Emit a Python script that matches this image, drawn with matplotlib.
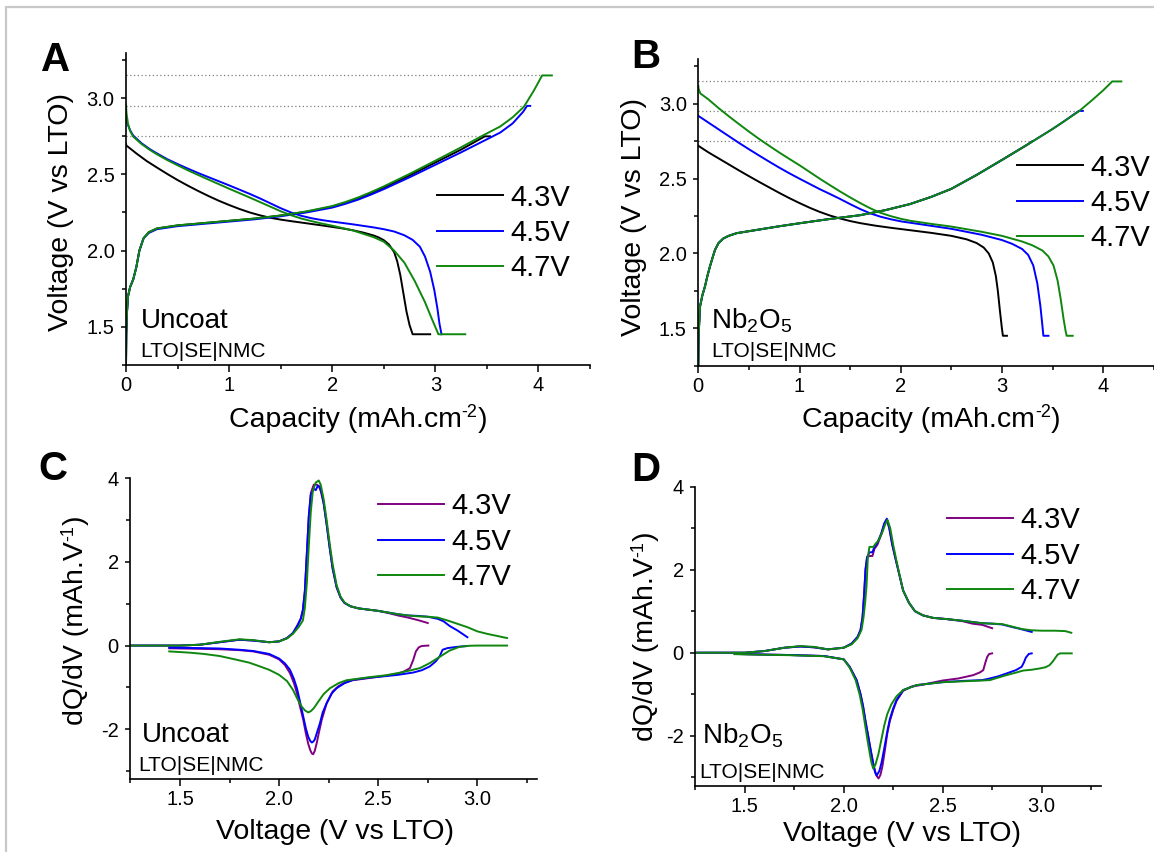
import matplotlib
matplotlib.use("Agg")
import matplotlib.pyplot as plt
from matplotlib.ticker import MultipleLocator, FormatStrFormatter
from matplotlib.patches import Rectangle

plt.rcParams["font.family"] = ["Liberation Sans", "DejaVu Sans"]
plt.rcParams["axes.unicode_minus"] = False

W, H = 1154, 852
BLACK, BLUE, GREEN, PURPLE = "#000000", "#0000ff", "#0f870f", "#800080"
LABELS = ["4.3V", "4.5V", "4.7V"]

# ---------------- Panel A: uncoated, charge / discharge ----------------
a_chg_43_x = [0, .003, .01, .02, .04, .07, .10, .13, .17, .22, .30, .5, .75, 1.0, 1.25, 1.5, 1.75, 2.0, 2.125, 2.25, 2.375, 2.5, 2.75, 3.0, 3.25, 3.48, 3.53]
a_chg_43_y = [1.25, 1.45, 1.6, 1.7, 1.76, 1.81, 1.89, 2.0, 2.08, 2.12, 2.145, 2.165, 2.18, 2.195, 2.21, 2.23, 2.255, 2.288, 2.313, 2.342, 2.376, 2.413, 2.493, 2.578, 2.663, 2.75, 2.75]
a_chg_45_x = [0, .003, .01, .02, .04, .07, .10, .13, .17, .22, .30, .5, .75, 1.0, 1.25, 1.5, 1.75, 2.0, 2.125, 2.25, 2.375, 2.5, 2.75, 3.0, 3.25, 3.44, 3.63, 3.75, 3.85, 3.89, 3.92]
a_chg_45_y = [1.25, 1.45, 1.6, 1.7, 1.76, 1.81, 1.89, 2.0, 2.08, 2.115, 2.14, 2.16, 2.175, 2.19, 2.205, 2.225, 2.25, 2.282, 2.306, 2.334, 2.367, 2.403, 2.481, 2.563, 2.645, 2.71, 2.775, 2.835, 2.91, 2.95, 2.95]
a_chg_47_x = [0, .003, .01, .02, .04, .07, .10, .13, .17, .22, .30, .5, .75, 1.0, 1.25, 1.5, 1.75, 2.0, 2.125, 2.25, 2.375, 2.5, 2.75, 3.0, 3.25, 3.44, 3.63, 3.75, 3.86, 3.955, 4.036, 4.13]
a_chg_47_y = [1.25, 1.45, 1.6, 1.7, 1.76, 1.81, 1.89, 2.0, 2.08, 2.12, 2.145, 2.165, 2.18, 2.195, 2.21, 2.23, 2.257, 2.292, 2.318, 2.348, 2.383, 2.421, 2.503, 2.59, 2.678, 2.748, 2.815, 2.875, 2.945, 3.05, 3.15, 3.15]

a_dis_43_x = [0, .003, .05, .1, .2, .3, .4, .5, .6, .7, .8, .9, 1.0, 1.1, 1.2, 1.3, 1.4, 1.5, 1.6, 1.75, 1.9, 2.0, 2.1, 2.2, 2.3, 2.4, 2.45, 2.5, 2.55, 2.6, 2.63, 2.66, 2.69, 2.72, 2.75, 2.78, 2.95]
a_dis_43_y = [2.70, 2.69, 2.665, 2.638, 2.588, 2.545, 2.503, 2.463, 2.426, 2.391, 2.358, 2.327, 2.299, 2.273, 2.25, 2.231, 2.215, 2.203, 2.193, 2.179, 2.165, 2.155, 2.145, 2.133, 2.118, 2.099, 2.086, 2.068, 2.04, 1.99, 1.93, 1.84, 1.72, 1.60, 1.51, 1.45, 1.45]
a_dis_45_x = [0, .01, .04, .07, .15, .233, .3, .4, .5, .6, .7, .8, .9, 1.0, 1.1, 1.2, 1.3, 1.4, 1.5, 1.6, 1.7, 1.8, 1.9, 2.0, 2.2, 2.4, 2.5, 2.6, 2.7, 2.78, 2.85, 2.9, 2.95, 2.99, 3.02, 3.04, 3.06]
a_dis_45_y = [2.88, 2.84, 2.79, 2.755, 2.705, 2.665, 2.638, 2.60, 2.568, 2.538, 2.509, 2.482, 2.455, 2.428, 2.40, 2.372, 2.342, 2.31, 2.278, 2.25, 2.228, 2.212, 2.2, 2.19, 2.172, 2.152, 2.14, 2.125, 2.10, 2.07, 2.025, 1.96, 1.86, 1.74, 1.62, 1.52, 1.45]
a_dis_47_x = [0, .005, .02, .04, .07, .15, .233, .3, .4, .5, .6, .7, .8, .9, 1.0, 1.1, 1.2, 1.3, 1.4, 1.5, 1.6, 1.7, 1.8, 1.9, 2.0, 2.2, 2.4, 2.5, 2.6, 2.7, 2.8, 2.9, 2.97, 3.03, 3.29]
a_dis_47_y = [2.96, 2.90, 2.83, 2.785, 2.748, 2.70, 2.66, 2.632, 2.594, 2.56, 2.527, 2.496, 2.466, 2.436, 2.406, 2.377, 2.348, 2.318, 2.288, 2.258, 2.232, 2.21, 2.193, 2.177, 2.163, 2.132, 2.088, 2.058, 2.0, 1.92, 1.80, 1.66, 1.545, 1.45, 1.45]

# ---------------- Panel B: Nb2O5 coated, charge / discharge ----------------
b_chg_43_x = [0, .003, .017, .04, .066, .09, .115, .14, .165, .2, .247, .3, .38, .6, .8, 1.0, 1.27, 1.6, 1.85, 2.09, 2.3, 2.5, 2.75, 3.0, 3.25, 3.3]
b_chg_43_y = [1.25, 1.45, 1.645, 1.72, 1.78, 1.85, 1.913, 1.97, 2.024, 2.07, 2.10, 2.118, 2.136, 2.16, 2.182, 2.202, 2.228, 2.256, 2.29, 2.33, 2.378, 2.432, 2.525, 2.625, 2.727, 2.75]
b_chg_45_x = [0, .003, .017, .04, .066, .09, .115, .14, .165, .2, .247, .3, .38, .6, .8, 1.0, 1.27, 1.6, 1.85, 2.09, 2.3, 2.5, 2.75, 3.0, 3.25, 3.376, 3.5, 3.6, 3.76, 3.80]
b_chg_45_y = [1.25, 1.45, 1.645, 1.72, 1.78, 1.85, 1.913, 1.97, 2.024, 2.07, 2.10, 2.118, 2.136, 2.16, 2.182, 2.202, 2.228, 2.256, 2.29, 2.33, 2.378, 2.432, 2.525, 2.625, 2.727, 2.78, 2.832, 2.877, 2.953, 2.953]
b_chg_47_x = [0, .003, .017, .04, .066, .09, .115, .14, .165, .2, .247, .3, .38, .6, .8, 1.0, 1.27, 1.6, 1.85, 2.09, 2.3, 2.5, 2.75, 3.0, 3.25, 3.376, 3.5, 3.6, 3.76, 3.9, 4.0, 4.09, 4.18]
b_chg_47_y = [1.25, 1.45, 1.645, 1.72, 1.78, 1.85, 1.913, 1.97, 2.024, 2.07, 2.10, 2.118, 2.136, 2.16, 2.182, 2.202, 2.228, 2.256, 2.29, 2.33, 2.378, 2.432, 2.525, 2.625, 2.727, 2.78, 2.832, 2.877, 2.95, 3.03, 3.09, 3.15, 3.15]

b_dis_43_x = [0, .1, .2, .3, .4, .5, .6, .7, .8, .9, 1.0, 1.1, 1.2, 1.3, 1.4, 1.5, 1.6, 1.75, 1.9, 2.1, 2.3, 2.5, 2.65, 2.75, 2.82, 2.87, 2.91, 2.94, 2.96, 2.98, 3.0, 3.01, 3.05]
b_dis_43_y = [2.72, 2.676, 2.636, 2.596, 2.556, 2.517, 2.479, 2.442, 2.405, 2.37, 2.337, 2.306, 2.278, 2.254, 2.234, 2.217, 2.203, 2.186, 2.172, 2.155, 2.138, 2.118, 2.095, 2.07, 2.04, 2.0, 1.94, 1.85, 1.75, 1.62, 1.50, 1.45, 1.45]
b_dis_45_x = [0, .1, .2, .3, .4, .5, .6, .7, .8, .9, 1.0, 1.1, 1.2, 1.3, 1.4, 1.5, 1.6, 1.7, 1.8, 1.9, 2.0, 2.2, 2.5, 2.8, 3.0, 3.1, 3.2, 3.26, 3.31, 3.35, 3.38, 3.40, 3.41, 3.46]
b_dis_45_y = [2.92, 2.875, 2.83, 2.785, 2.74, 2.697, 2.655, 2.614, 2.574, 2.536, 2.50, 2.465, 2.43, 2.398, 2.365, 2.33, 2.297, 2.268, 2.246, 2.229, 2.215, 2.195, 2.165, 2.125, 2.09, 2.065, 2.03, 1.99, 1.92, 1.80, 1.65, 1.52, 1.45, 1.45]
b_dis_47_x = [0, .003, .02, .1, .2, .3, .4, .5, .6, .7, .8, .9, 1.0, 1.1, 1.2, 1.3, 1.4, 1.5, 1.6, 1.7, 1.8, 1.9, 2.0, 2.1, 2.3, 2.5, 2.8, 3.0, 3.2, 3.3, 3.4, 3.46, 3.51, 3.55, 3.58, 3.61, 3.63, 3.64, 3.70]
b_dis_47_y = [3.12, 3.10, 3.07, 3.03, 2.972, 2.918, 2.866, 2.815, 2.766, 2.72, 2.675, 2.632, 2.59, 2.545, 2.50, 2.457, 2.415, 2.375, 2.337, 2.302, 2.272, 2.25, 2.232, 2.218, 2.198, 2.18, 2.145, 2.118, 2.08, 2.055, 2.02, 1.98, 1.92, 1.82, 1.70, 1.56, 1.48, 1.45, 1.45]

# cut-off voltages (dotted guides) and where they stop
a_cut_v = [2.75, 2.95, 3.15]
a_cut_end = [3.48, 3.89, 4.04]
b_cut_v = [2.75, 2.95, 3.15]
b_cut_end = [3.3, 3.76, 4.09]

# ---------------- Panel C: uncoated, dQ/dV ----------------
c_up_43_x = [1.25, 1.5, 1.6, 1.7, 1.8, 1.87, 1.95, 2.0, 2.04, 2.07, 2.095, 2.11, 2.12, 2.13, 2.14, 2.15, 2.16, 2.175, 2.19, 2.2, 2.21, 2.225, 2.24, 2.255, 2.27, 2.29, 2.31, 2.33, 2.36, 2.4, 2.45, 2.5, 2.55, 2.6, 2.65, 2.7, 2.75]
c_up_43_y = [0, 0, .02, .08, .14, .12, .08, .1, .18, .3, .5, .65, .85, 1.3, 2.2, 3.1, 3.65, 3.85, 3.85, 3.82, 3.7, 3.4, 2.9, 2.35, 1.85, 1.4, 1.15, 1.02, .94, .89, .86, .83, .78, .72, .67, .61, .54]
c_up_45_x = [1.25, 1.5, 1.6, 1.7, 1.8, 1.87, 1.95, 2.0, 2.04, 2.07, 2.095, 2.11, 2.12, 2.13, 2.14, 2.15, 2.16, 2.175, 2.185, 2.195, 2.205, 2.215, 2.225, 2.24, 2.255, 2.27, 2.29, 2.31, 2.33, 2.36, 2.4, 2.45, 2.5, 2.55, 2.6, 2.65, 2.7, 2.75, 2.8, 2.83, 2.86, 2.9, 2.95]
c_up_45_y = [0, 0, .02, .08, .14, .12, .08, .1, .18, .3, .5, .65, .85, 1.3, 2.2, 3.1, 3.6, 3.75, 3.72, 3.82, 3.80, 3.65, 3.4, 2.9, 2.35, 1.85, 1.4, 1.15, 1.02, .94, .89, .86, .83, .79, .75, .72, .71, .69, .64, .58, .47, .36, .2]
c_up_47_x = [1.25, 1.5, 1.6, 1.7, 1.8, 1.87, 1.95, 2.0, 2.04, 2.07, 2.1, 2.12, 2.13, 2.14, 2.15, 2.16, 2.17, 2.185, 2.2, 2.21, 2.225, 2.24, 2.255, 2.27, 2.29, 2.31, 2.33, 2.36, 2.4, 2.45, 2.5, 2.55, 2.6, 2.65, 2.7, 2.75, 2.8, 2.85, 2.9, 2.95, 3.0, 3.05, 3.1, 3.15]
c_up_47_y = [0, 0, .02, .09, .15, .13, .08, .1, .17, .28, .45, .6, .9, 1.5, 2.4, 3.2, 3.7, 3.9, 3.95, 3.85, 3.5, 3.0, 2.45, 1.95, 1.45, 1.17, 1.03, .94, .89, .86, .83, .79, .75, .72, .70, .69, .67, .6, .52, .44, .34, .28, .23, .18]

c_dn_43_x = [1.446, 1.6, 1.7, 1.8, 1.87, 1.95, 2.0, 2.03, 2.055, 2.075, 2.09, 2.105, 2.122, 2.135, 2.147, 2.157, 2.165, 2.172, 2.18, 2.19, 2.2, 2.215, 2.24, 2.27, 2.3, 2.33, 2.37, 2.45, 2.54, 2.6, 2.63, 2.66, 2.677, 2.69, 2.705, 2.72, 2.753]
c_dn_43_y = [-.065, -.078, -.088, -.11, -.14, -.22, -.33, -.47, -.66, -.9, -1.14, -1.45, -1.78, -2.1, -2.35, -2.5, -2.58, -2.6, -2.52, -2.33, -2.1, -1.78, -1.38, -1.1, -.97, -.89, -.83, -.78, -.72, -.67, -.62, -.54, -.34, -.14, -.04, -.01, 0]
c_dn_45_x = [1.446, 1.6, 1.7, 1.8, 1.87, 1.95, 2.0, 2.03, 2.055, 2.075, 2.09, 2.105, 2.122, 2.135, 2.147, 2.157, 2.165, 2.172, 2.18, 2.19, 2.206, 2.22, 2.24, 2.265, 2.29, 2.33, 2.374, 2.45, 2.54, 2.6, 2.677, 2.72, 2.76, 2.79, 2.81, 2.82, 2.825, 2.85, 2.9, 2.95]
c_dn_45_y = [-.05, -.06, -.07, -.1, -.13, -.2, -.31, -.43, -.58, -.8, -1.02, -1.33, -1.7, -1.98, -2.18, -2.28, -2.32, -2.3, -2.25, -2.1, -1.86, -1.6, -1.38, -1.15, -1.02, -.9, -.82, -.77, -.73, -.7, -.645, -.59, -.5, -.38, -.26, -.15, -.1, -.06, -.03, -.01]
c_dn_47_x = [1.446, 1.55, 1.62, 1.7, 1.786, 1.85, 1.904, 1.95, 2.0, 2.04, 2.07, 2.095, 2.114, 2.13, 2.147, 2.16, 2.175, 2.198, 2.225, 2.257, 2.3, 2.34, 2.45, 2.54, 2.62, 2.71, 2.76, 2.81, 2.86, 2.91, 2.96, 3.0, 3.15]
c_dn_47_y = [-.14, -.17, -.2, -.25, -.34, -.41, -.5, -.58, -.7, -.85, -1.06, -1.3, -1.46, -1.55, -1.6, -1.57, -1.5, -1.34, -1.16, -1.02, -.9, -.83, -.76, -.71, -.64, -.54, -.42, -.27, -.12, -.03, -.005, 0, 0]

# ---------------- Panel D: Nb2O5 coated, dQ/dV ----------------
d_up_43_x = [1.25, 1.5, 1.6, 1.7, 1.78, 1.85, 1.92, 2.0, 2.04, 2.07, 2.085, 2.095, 2.103, 2.11, 2.118, 2.13, 2.145, 2.155, 2.17, 2.19, 2.205, 2.217, 2.23, 2.245, 2.26, 2.28, 2.3, 2.33, 2.36, 2.4, 2.45, 2.52, 2.6, 2.65, 2.7, 2.75]
d_up_43_y = [0, 0, .04, .12, .15, .13, .08, .12, .22, .38, .55, .85, 1.4, 2.0, 2.3, 2.33, 2.33, 2.5, 2.6, 2.85, 3.1, 3.2, 3.0, 2.6, 2.3, 1.9, 1.5, 1.2, 1.0, .9, .84, .81, .76, .70, .67, .59]
d_up_45_x = [1.25, 1.5, 1.6, 1.7, 1.78, 1.85, 1.92, 2.0, 2.04, 2.07, 2.085, 2.095, 2.103, 2.11, 2.118, 2.13, 2.145, 2.155, 2.17, 2.19, 2.205, 2.218, 2.23, 2.245, 2.26, 2.28, 2.3, 2.33, 2.36, 2.4, 2.45, 2.52, 2.6, 2.7, 2.75, 2.8, 2.85, 2.89, 2.95]
d_up_45_y = [0, 0, .04, .12, .15, .13, .08, .12, .22, .38, .55, .85, 1.4, 2.0, 2.3, 2.42, 2.42, 2.55, 2.65, 2.88, 3.12, 3.23, 3.02, 2.62, 2.3, 1.9, 1.5, 1.2, 1.0, .9, .84, .81, .77, .71, .70, .68, .62, .575, .50]
d_up_47_x = [1.25, 1.5, 1.6, 1.7, 1.78, 1.85, 1.92, 2.0, 2.04, 2.07, 2.09, 2.1, 2.108, 2.115, 2.122, 2.13, 2.15, 2.16, 2.175, 2.195, 2.21, 2.221, 2.235, 2.25, 2.265, 2.28, 2.3, 2.33, 2.36, 2.4, 2.45, 2.52, 2.6, 2.7, 2.75, 2.8, 2.85, 2.9, 2.95, 3.0, 3.07, 3.12, 3.15]
d_up_47_y = [0, 0, .04, .12, .16, .14, .08, .12, .2, .35, .55, .85, 1.2, 1.6, 2.3, 2.55, 2.55, 2.62, 2.7, 2.9, 3.1, 3.2, 3.0, 2.6, 2.25, 1.92, 1.5, 1.2, 1.0, .9, .84, .81, .77, .71, .70, .69, .63, .57, .54, .53, .53, .52, .48]

d_dn_43_x = [1.449, 1.6, 1.728, 1.9, 2.0, 2.03, 2.065, 2.085, 2.098, 2.11, 2.124, 2.137, 2.149, 2.16, 2.168, 2.176, 2.185, 2.195, 2.208, 2.22, 2.233, 2.25, 2.267, 2.3, 2.34, 2.4, 2.5, 2.58, 2.655, 2.69, 2.705, 2.715, 2.725, 2.735, 2.75]
d_dn_43_y = [-.03, -.045, -.056, -.08, -.16, -.34, -.66, -1.0, -1.3, -1.65, -2.02, -2.37, -2.67, -2.88, -2.98, -3.03, -2.95, -2.75, -2.35, -1.95, -1.65, -1.38, -1.16, -.92, -.82, -.77, -.67, -.62, -.54, -.47, -.42, -.25, -.1, -.03, -.016]
d_dn_45_x = [1.449, 1.6, 1.728, 1.9, 2.0, 2.03, 2.065, 2.085, 2.098, 2.11, 2.124, 2.137, 2.149, 2.158, 2.166, 2.18, 2.191, 2.205, 2.22, 2.233, 2.25, 2.267, 2.3, 2.368, 2.5, 2.6, 2.7, 2.739, 2.78, 2.823, 2.87, 2.899, 2.91, 2.92, 2.935, 2.95]
d_dn_45_y = [-.03, -.045, -.056, -.08, -.16, -.34, -.66, -1.0, -1.3, -1.65, -2.02, -2.37, -2.67, -2.88, -2.96, -2.85, -2.65, -2.3, -1.9, -1.6, -1.34, -1.14, -.9, -.78, -.71, -.68, -.66, -.62, -.57, -.5, -.42, -.34, -.24, -.12, -.03, -.016]
d_dn_47_x = [1.449, 1.6, 1.728, 1.9, 2.0, 2.03, 2.06, 2.08, 2.095, 2.11, 2.125, 2.14, 2.149, 2.16, 2.175, 2.19, 2.205, 2.22, 2.24, 2.267, 2.3, 2.37, 2.5, 2.6, 2.7, 2.739, 2.78, 2.823, 2.87, 2.907, 2.95, 2.99, 3.02, 3.04, 3.055, 3.067, 3.08, 3.093, 3.152]
d_dn_47_y = [-.035, -.05, -.06, -.085, -.16, -.36, -.66, -1.0, -1.35, -1.8, -2.25, -2.65, -2.79, -2.7, -2.45, -2.1, -1.75, -1.48, -1.25, -1.05, -.9, -.78, -.71, -.69, -.67, -.66, -.6, -.54, -.48, -.43, -.41, -.38, -.35, -.30, -.22, -.14, -.05, -.016, -.016]


def fx(x):
    return x / W


def fy(y):
    return 1 - y / H


def add_axes_px(fig, left, top, right, bottom):
    return fig.add_axes([left / W, 1 - bottom / H, (right - left) / W, (bottom - top) / H])


def style_axes(ax):
    for s in ("top", "right"):
        ax.spines[s].set_visible(False)
    for s in ("left", "bottom"):
        ax.spines[s].set_linewidth(1.2)
    ax.set_facecolor("none")
    ax.tick_params(which="both", direction="out", width=1.1, labelsize=14.5)
    ax.tick_params(axis="x", which="major", length=5, pad=3)
    ax.tick_params(axis="x", which="minor", length=3)
    ax.tick_params(axis="y", which="major", length=3.8, pad=4.5)
    ax.tick_params(axis="y", which="minor", length=2.6)


def add_legend(ax, handles, x0, y0):
    ax.legend(handles, LABELS, loc="upper left", bbox_to_anchor=(x0, y0),
              frameon=False, fontsize=21, handlelength=2.26, handletextpad=0.24,
              labelspacing=0.255, borderpad=0, borderaxespad=0)


fig = plt.figure(figsize=(W / 100, H / 100), dpi=100)
fig.patch.set_facecolor("white")
renderer = fig.canvas.get_renderer()


def text_width(s, fs):
    t = fig.text(0, 0, s, fontsize=fs)
    w = t.get_window_extent(renderer).width
    t.remove()
    return w


def sup_label(x, y, parts, vertical=False):
    # parts: (text, fontsize, raise in px); x, y: centre along the text and baseline, in px
    widths = [text_width(s, fs) for s, fs, _ in parts]
    pos = -sum(widths) / 2
    for (s, fs, r), w in zip(parts, widths):
        if vertical:
            fig.text(fx(x - r), fy(y - pos), s, fontsize=fs, rotation=90,
                     rotation_mode="anchor", ha="left", va="baseline")
        else:
            fig.text(fx(x + pos), fy(y - r), s, fontsize=fs, ha="left", va="baseline")
        pos += w


# light grey frame, only top and left edges remain in the crop
fig.add_artist(Rectangle((fx(6), -0.1), 1.2, fy(7) + 0.1, transform=fig.transFigure,
                         fill=False, edgecolor="#c8c8c8", linewidth=1.6, clip_on=False))

# ---------- A ----------
axA = add_axes_px(fig, 126, 52.6, 590, 364.7)
style_axes(axA)
for v, e in zip(a_cut_v, a_cut_end):
    axA.plot([0, e], [v, v], color="#808080", lw=0.9, ls=(0, (1, 2)))
hA = []
for (cx, cy, dx, dy, c) in [(a_chg_43_x, a_chg_43_y, a_dis_43_x, a_dis_43_y, BLACK),
                            (a_chg_45_x, a_chg_45_y, a_dis_45_x, a_dis_45_y, BLUE),
                            (a_chg_47_x, a_chg_47_y, a_dis_47_x, a_dis_47_y, GREEN)]:
    ln, = axA.plot(cx, cy, color=c, lw=1.4)
    axA.plot(dx, dy, color=c, lw=1.4)
    hA.append(ln)
axA.set_xlim(0, 4.5)
axA.set_ylim(1.25, 3.3)
axA.xaxis.set_major_locator(MultipleLocator(1))
axA.xaxis.set_minor_locator(MultipleLocator(0.5))
axA.yaxis.set_major_locator(MultipleLocator(0.5))
axA.yaxis.set_minor_locator(MultipleLocator(0.25))
axA.yaxis.set_major_formatter(FormatStrFormatter("%.1f"))
add_legend(axA, hA, (437 - 126) / 464, (364.7 - 183.5) / 312.1)

# ---------- B ----------
axB = add_axes_px(fig, 698.3, 59, 1153.7, 365.7)
style_axes(axB)
for v, e in zip(b_cut_v, b_cut_end):
    axB.plot([0, e], [v, v], color="#808080", lw=0.9, ls=(0, (1, 2)))
hB = []
for (cx, cy, dx, dy, c) in [(b_chg_43_x, b_chg_43_y, b_dis_43_x, b_dis_43_y, BLACK),
                            (b_chg_45_x, b_chg_45_y, b_dis_45_x, b_dis_45_y, BLUE),
                            (b_chg_47_x, b_chg_47_y, b_dis_47_x, b_dis_47_y, GREEN)]:
    ln, = axB.plot(cx, cy, color=c, lw=1.4)
    axB.plot(dx, dy, color=c, lw=1.4)
    hB.append(ln)
axB.set_xlim(0, 4.5)
axB.set_ylim(1.25, 3.3)
axB.xaxis.set_major_locator(MultipleLocator(1))
axB.xaxis.set_minor_locator(MultipleLocator(0.5))
axB.yaxis.set_major_locator(MultipleLocator(0.5))
axB.yaxis.set_minor_locator(MultipleLocator(0.25))
axB.yaxis.set_major_formatter(FormatStrFormatter("%.1f"))
add_legend(axB, hB, (1017 - 698.3) / 455.4, (365.7 - 153.5) / 306.7)

# ---------- C ----------
axC = add_axes_px(fig, 130.4, 478.4, 536.8, 779.3)
style_axes(axC)
hC = []
for (ux, uy, dx, dy, c) in [(c_up_43_x, c_up_43_y, c_dn_43_x, c_dn_43_y, PURPLE),
                            (c_up_45_x, c_up_45_y, c_dn_45_x, c_dn_45_y, BLUE),
                            (c_up_47_x, c_up_47_y, c_dn_47_x, c_dn_47_y, GREEN)]:
    ln, = axC.plot(ux, uy, color=c, lw=1.4)
    axC.plot(dx, dy, color=c, lw=1.4)
    hC.append(ln)
axC.set_xlim(1.25, 3.3)
axC.set_ylim(-3.2, 4)
axC.xaxis.set_major_locator(MultipleLocator(0.5))
axC.xaxis.set_minor_locator(MultipleLocator(0.25))
axC.xaxis.set_major_formatter(FormatStrFormatter("%.1f"))
axC.yaxis.set_major_locator(MultipleLocator(2))
axC.yaxis.set_minor_locator(MultipleLocator(1))
add_legend(axC, hC, (378 - 130.4) / 406.4, (779.3 - 492.5) / 300.9)

# ---------- D ----------
axD = add_axes_px(fig, 695.3, 486.7, 1101, 785.5)
style_axes(axD)
hD = []
for (ux, uy, dx, dy, c) in [(d_up_43_x, d_up_43_y, d_dn_43_x, d_dn_43_y, PURPLE),
                            (d_up_45_x, d_up_45_y, d_dn_45_x, d_dn_45_y, BLUE),
                            (d_up_47_x, d_up_47_y, d_dn_47_x, d_dn_47_y, GREEN)]:
    ln, = axD.plot(ux, uy, color=c, lw=1.4)
    axD.plot(dx, dy, color=c, lw=1.4)
    hD.append(ln)
axD.set_xlim(1.25, 3.3)
axD.set_ylim(-3.2, 4)
axD.xaxis.set_major_locator(MultipleLocator(0.5))
axD.xaxis.set_minor_locator(MultipleLocator(0.25))
axD.xaxis.set_major_formatter(FormatStrFormatter("%.1f"))
axD.yaxis.set_major_locator(MultipleLocator(2))
axD.yaxis.set_minor_locator(MultipleLocator(1))
add_legend(axD, hD, (947 - 695.3) / 405.7, (785.5 - 506.5) / 298.8)

# ---------- axis titles ----------
volt_label = "Voltage (V vs LTO)"
cap_parts = [("Capacity (mAh.cm", 20.5, 0), ("-2", 13, 10), (")", 20.5, 0)]
dqdv_parts = [("dQ/dV (mAh.V", 20.5, 0), ("-1", 13, 10), (")", 20.5, 0)]
sup_label(358, 427, cap_parts)
sup_label(931, 427, cap_parts)
sup_label(83, 620, dqdv_parts, vertical=True)
sup_label(653, 636, dqdv_parts, vertical=True)
fig.text(fx(61), fy(212), volt_label, fontsize=20.5, ha="center", va="center", rotation=90)
fig.text(fx(634), fy(217), volt_label, fontsize=20.5, ha="center", va="center", rotation=90)
fig.text(fx(335), fy(832), volt_label, fontsize=20.5, ha="center", va="center")
fig.text(fx(902), fy(834), volt_label, fontsize=20.5, ha="center", va="center")

# ---------- panel annotations ----------
nb_label = r"Nb$_\mathregular{2}$O$_\mathregular{5}$"
fig.text(fx(141), fy(328), "Uncoat", fontsize=20, va="baseline")
fig.text(fx(140), fy(357), "LTO|SE|NMC", fontsize=15, va="baseline")
fig.text(fx(711), fy(328), nb_label, fontsize=20, va="baseline")
fig.text(fx(711), fy(357), "LTO|SE|NMC", fontsize=15, va="baseline")
fig.text(fx(142), fy(742), "Uncoat", fontsize=20, va="baseline")
fig.text(fx(138), fy(771), "LTO|SE|NMC", fontsize=15, va="baseline")
fig.text(fx(702), fy(743), nb_label, fontsize=20, va="baseline")
fig.text(fx(699), fy(778), "LTO|SE|NMC", fontsize=15, va="baseline")

for lbl, x, y in [("A", 41, 71), ("B", 631, 68), ("C", 38, 480), ("D", 631, 481)]:
    fig.text(fx(x), fy(y), lbl, fontsize=29, fontweight="bold", va="baseline")

fig.savefig("out.png", dpi=100)
